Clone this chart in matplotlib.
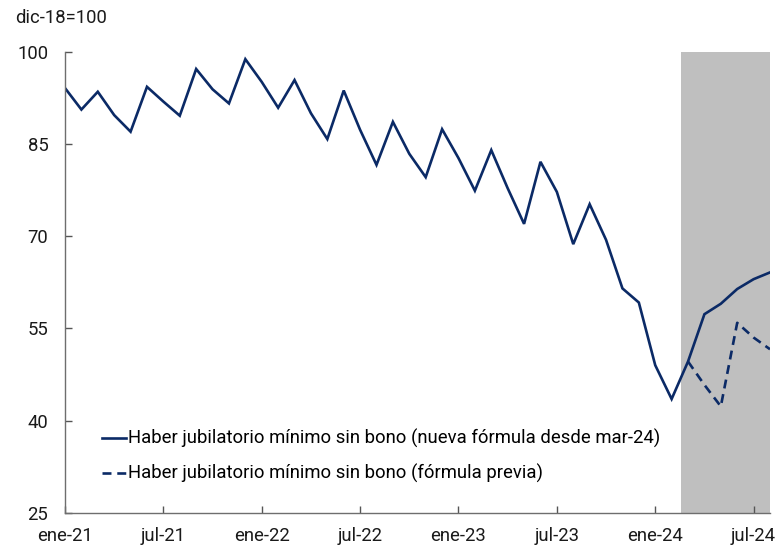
import matplotlib.pyplot as plt
import pandas as pd

# Serie mensual ene-21 .. ago-24 (índice dic-18=100)
months = pd.date_range("2021-01-01", "2024-08-01", freq="MS")
haber_nueva = [
    94.1, 90.6, 93.5, 89.7, 87.0, 94.3, 91.9, 89.6, 97.2, 93.9, 91.6, 98.8,
    95.1, 90.9, 95.4, 90.0, 85.8, 93.7, 87.3, 81.6, 88.6, 83.4, 79.6, 87.4,
    82.7, 77.4, 84.0, 77.8, 72.0, 82.1, 77.2, 68.7, 75.2, 69.4, 61.5, 59.2,
    49.0, 43.5, 49.6, 57.3, 59.0, 61.4, 63.0, 64.1,
]
# fórmula previa: sólo desde mar-24
haber_previa = [None] * 38 + [49.6, 45.8, 42.3, 55.9, 53.5, 51.6]

tick_labels = ["ene-21", "jul-21", "ene-22", "jul-22", "ene-23", "jul-23", "ene-24", "jul-24"]
y_ticks = [25, 40, 55, 70, 85, 100]
shade_start = 37.55   # entre feb-24 y mar-24

NAVY = "#0b2a66"
FS = 13.3

plt.rcParams["font.family"] = ["Roboto", "DejaVu Sans"]

x = list(range(len(months)))
prev_x = [i for i, v in zip(x, haber_previa) if v is not None]
prev_y = [v for v in haber_previa if v is not None]

fig = plt.figure(figsize=(7.79, 5.46), dpi=100)
ax = fig.add_axes([65 / 779, 1 - 512.7 / 546, 705 / 779, 460.9 / 546])

ax.axvspan(shade_start, len(months) - 1, color="#bfbfbf", lw=0, zorder=0)
ax.plot(x, haber_nueva, color=NAVY, lw=1.9, solid_joinstyle="miter",
        label="Haber jubilatorio mínimo sin bono (nueva fórmula desde mar-24)")
ax.plot(prev_x, prev_y, color=NAVY, lw=1.9, dashes=(3.4, 2.2),
        label="Haber jubilatorio mínimo sin bono (fórmula previa)")

ax.set_xlim(0, len(months) - 1)
ax.set_ylim(25, 100)
ax.set_yticks(y_ticks)
ax.set_xticks(range(0, len(months), 6))
ax.set_xticklabels(tick_labels)

for side in ("top", "right"):
    ax.spines[side].set_visible(False)
for side in ("left", "bottom"):
    ax.spines[side].set_color("#6e6e6e")
    ax.spines[side].set_linewidth(1.0)
ax.tick_params(axis="both", direction="in", length=5, width=1.0, color="#555555",
               labelsize=FS, labelcolor="#1a1a1a")
ax.tick_params(axis="y", pad=12)
ax.tick_params(axis="x", pad=10)

fig.text(15 / 779, 1 - 18 / 546, "dic-18=100", fontsize=FS, color="#1a1a1a", va="center")

ax.legend(loc="upper left", bbox_to_anchor=(0.053, 0.181), frameon=False,
          fontsize=FS, handlelength=1.3, handletextpad=0.1, labelspacing=0.85,
          borderpad=0, borderaxespad=0)

fig.savefig("out.png", dpi=100)
